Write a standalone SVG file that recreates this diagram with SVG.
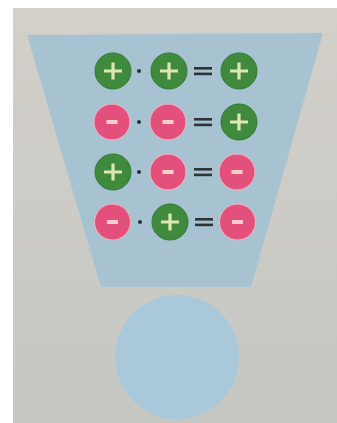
<svg xmlns="http://www.w3.org/2000/svg" width="337" height="423" viewBox="0 0 337 423">
  <defs>
    <linearGradient id="paper" x1="0" y1="0" x2="0" y2="1">
      <stop offset="0" stop-color="#d3cfc9"/>
      <stop offset="1" stop-color="#c5c7c3"/>
    </linearGradient>
    <style>
      .pos{fill:#3f8a3c;stroke:#2f7a30;stroke-width:1}
      .neg{fill:#e3507c;stroke:#f2b8c6;stroke-width:1}
      .plus{stroke:#dfe6b4;stroke-width:3.2;stroke-linecap:butt;fill:none}
      .minus{fill:#f5cfc8}
      .dot{fill:#2a2f33}
      .eq{fill:#2e3336}
    </style>
    <g id="p">
      <circle class="pos" r="18"/>
      <path class="plus" d="M-9 0H9M0 -8.5V8.5"/>
    </g>
    <g id="m">
      <circle class="neg" r="18"/>
      <rect class="minus" x="-5.5" y="-2" width="11" height="4"/>
    </g>
    <g id="e">
      <rect class="eq" x="-9" y="-4" width="18" height="2.6"/>
      <rect class="eq" x="-9" y="1.6" width="18" height="2.6"/>
    </g>
  </defs>
  <rect width="337" height="423" fill="#ffffff"/>
  <rect x="13" y="8" width="324" height="415" fill="url(#paper)"/>
  <g id="funnel">
    <polygon points="27,35 323,33 251,287 101,287" fill="#a7c3d1"/>
  </g>
  <g id="bottom-circle">
    <circle cx="177" cy="357" r="62" fill="#a9c9da"/>
  </g>
  <g id="row1">
    <use href="#p" x="113" y="71"/>
    <circle class="dot" cx="139" cy="71" r="2"/>
    <use href="#p" x="169" y="71"/>
    <use href="#e" x="203" y="71"/>
    <use href="#p" x="239" y="71"/>
  </g>
  <g id="row2">
    <use href="#m" x="112" y="122"/>
    <circle class="dot" cx="139" cy="122" r="2"/>
    <use href="#m" x="168" y="122"/>
    <use href="#e" x="203" y="122"/>
    <use href="#p" x="239" y="122"/>
  </g>
  <g id="row3">
    <use href="#p" x="113" y="172"/>
    <circle class="dot" cx="139" cy="172" r="2"/>
    <use href="#m" x="168" y="172"/>
    <use href="#e" x="203" y="172"/>
    <use href="#m" x="237" y="172"/>
  </g>
  <g id="row4">
    <use href="#m" x="112.5" y="222"/>
    <circle class="dot" cx="140" cy="222" r="2"/>
    <use href="#p" x="170" y="222"/>
    <use href="#e" x="204" y="222"/>
    <use href="#m" x="237.5" y="222"/>
  </g>
  <g id="connectors"/>
</svg>
